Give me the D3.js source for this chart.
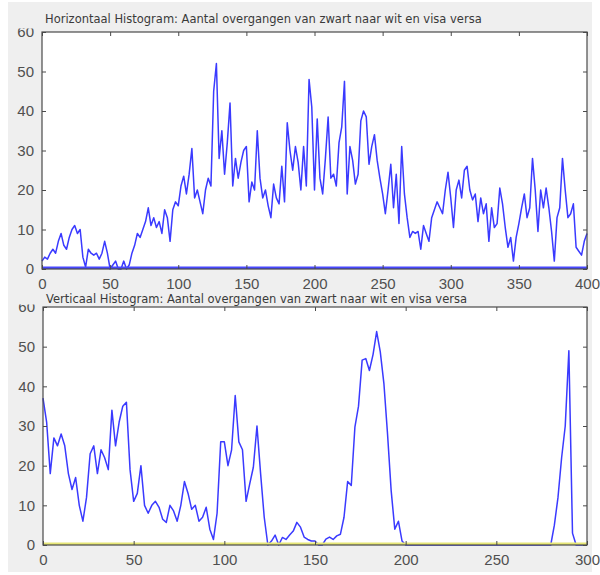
<!DOCTYPE html>
<html>
<head>
<meta charset="utf-8">
<script src="https://cdn.jsdelivr.net/npm/d3@7"></script>
<style>
  body { margin: 0; background: #fff; }
  svg { display: block; }
  text { font-family: Arial, "Liberation Sans", sans-serif; }
</style>
</head>
<body>
<svg id="chart" width="600" height="575"></svg>
<script>
// horizontal histogram, one value per 2 columns (0..400)
const horizValues = [
  2, 3, 2.5, 4, 5, 4, 7, 9, 6, 5, 8, 10, 11, 9, 10, 3, 0.5, 5, 4, 3.5,
  4, 2.5, 4, 7, 4, 0, 1, 2, 0, 0, 2, 0, 1, 4, 6, 9, 8, 10, 12, 15.5,
  11, 13, 10.5, 12, 9, 15, 13, 7, 15, 17, 16, 21, 23.5, 19, 24, 30.5, 18, 20, 17, 14,
  20, 23, 21, 45, 52, 28, 35, 24, 32, 42, 21, 28, 23, 27, 30, 31, 17, 22, 20, 35,
  23, 18, 20, 16, 13, 21.5, 18, 16.5, 26, 17, 37, 30, 25, 31, 27, 20, 31, 21, 48, 41,
  20, 38, 23, 19, 28, 38.5, 23, 24, 21, 32, 36, 47.5, 19, 31, 27.5, 21.5, 24, 37.5, 40, 38.5,
  26.5, 31, 34, 27.5, 23, 19, 14, 20, 26.5, 15.5, 24, 11.5, 31, 19, 13, 8, 9.5, 9, 9.5, 5,
  11, 9, 7, 13, 15, 17, 15.5, 14, 20, 24.5, 18, 10.5, 20, 22.5, 18, 25, 26, 20, 17.5, 19,
  12, 18, 14, 16.5, 7, 15.5, 10.5, 11.5, 20.5, 16.5, 10.5, 5.5, 8, 2, 8, 11.5, 15.5, 19, 13, 15.5,
  28, 20, 9.5, 20, 15.5, 20.5, 15.5, 9.5, 2, 13, 15.5, 28, 20, 13, 14, 16.5, 5.5, 4.5, 3.5, 7,
  9
];
const horizStep = 2;

// vertical histogram, one value per 2 rows (0..300)
const vertValues = [
  37, 31, 18, 27, 25, 28, 25, 18, 14, 17, 10, 6, 12, 23, 25, 18, 24, 22, 19, 34,
  25, 31, 35, 36, 19, 11, 13, 20, 10, 8, 10, 11, 9.5, 6.5, 5.7, 10, 8.6, 6, 10, 16,
  13, 9, 10, 6, 7, 9.5, 4, 1.4, 8, 26, 26, 20, 24, 37.7, 26, 24, 11, 15.4, 19.6, 30,
  18, 7, 0, 1, 2.5, 0, 1.9, 1.4, 2.5, 3.5, 5.7, 4.5, 2, 1.4, 1, 1, 0, 0, 1.5, 2,
  1.4, 2.3, 2.7, 7, 16, 15, 29.7, 35, 46.6, 47, 44, 48, 53.8, 48.7, 40.7, 28, 13.7, 4, 6, 1,
  0, 0, 0, 0, 0, 0, 0, 0, 0, 0, 0, 0, 0, 0, 0, 0, 0, 0, 0, 0,
  0, 0, 0, 0, 0, 0, 0, 0, 0, 0, 0, 0, 0, 0, 0, 0, 0, 0, 0, 0,
  0, 5, 12, 22, 30, 49, 3, 0, 0, 0, 0
];
const vertStep = 2;

const yTicks = [0, 10, 20, 30, 40, 50, 60];
const horizXTicks = [0, 50, 100, 150, 200, 250, 300, 350, 400];
const vertXTicks = [0, 50, 100, 150, 200, 250, 300];

const horizTitle = "Horizontaal Histogram: Aantal overgangen van zwart naar wit en visa versa";
const vertTitle = "Verticaal Histogram: Aantal overgangen van zwart naar wit en visa versa";

const svg = d3.select("#chart");
const axisColor = "#4a4a4a";
const labelColor = "#505050";

svg.append("rect")
  .attr("x", 8).attr("y", 2)
  .attr("width", 584).attr("height", 570)
  .attr("fill", "#efefef");

const panels = [
  { title: horizTitle, values: horizValues, step: horizStep, xMax: 400, xTicks: horizXTicks,
    left: 42, right: 587, top: 32, bottom: 269, titleY: 23, maskTop: 8, maskBottom: 28.5, zeroColor: "#4848ff" },
  { title: vertTitle, values: vertValues, step: vertStep, xMax: 300, xTicks: vertXTicks,
    left: 43, right: 587, top: 307, bottom: 545, titleY: 303, maskTop: 291, maskBottom: 304.5, zeroColor: "#e6e676" }
];

panels.forEach(p => {
  const x = d3.scaleLinear().domain([0, p.xMax]).range([p.left, p.right]);
  const y = d3.scaleLinear().domain([0, 60]).range([p.bottom, p.top]);
  const g = svg.append("g");

  g.append("rect")
    .attr("x", p.left).attr("y", p.top)
    .attr("width", p.right - p.left).attr("height", p.bottom - p.top)
    .attr("fill", "#fff");

  const line = d3.line()
    .x((d, i) => x(i * p.step))
    .y(d => y(d));

  g.append("path")
    .datum(p.values)
    .attr("d", line)
    .attr("fill", "none")
    .attr("stroke", "#3a3aff")
    .attr("stroke-width", 1.5)
    .attr("stroke-linejoin", "round");

  // zero line (second series), drawn on top
  g.append("line")
    .attr("x1", x(0)).attr("x2", x(p.xMax))
    .attr("y1", y(0) - 1.2).attr("y2", y(0) - 1.2)
    .attr("stroke", p.zeroColor).attr("stroke-width", 2.4);

  // axes: ticks inward on all four sides
  const bottomAxis = g.append("g")
    .attr("transform", `translate(0,${p.bottom})`)
    .call(d3.axisBottom(x).tickValues(p.xTicks).tickSizeInner(-4).tickSizeOuter(0).tickPadding(9));
  const topAxis = g.append("g")
    .attr("transform", `translate(0,${p.top})`)
    .call(d3.axisTop(x).tickValues(p.xTicks).tickSizeInner(-4).tickSizeOuter(0).tickFormat(""));
  const leftAxis = g.append("g")
    .attr("transform", `translate(${p.left},0)`)
    .call(d3.axisLeft(y).tickValues(yTicks).tickSizeInner(-4).tickSizeOuter(0).tickPadding(8));
  const rightAxis = g.append("g")
    .attr("transform", `translate(${p.right},0)`)
    .call(d3.axisRight(y).tickValues(yTicks).tickSizeInner(-4).tickSizeOuter(0).tickFormat(""));

  [bottomAxis, topAxis, leftAxis, rightAxis].forEach(a => {
    a.select(".domain").remove();
    a.selectAll(".tick line").attr("stroke", axisColor);
    a.selectAll("text")
      .attr("fill", labelColor)
      .style("font-size", "15px");
  });

  g.append("rect")
    .attr("x", p.left).attr("y", p.top)
    .attr("width", p.right - p.left).attr("height", p.bottom - p.top)
    .attr("fill", "none")
    .attr("stroke", axisColor)
    .attr("stroke-width", 1.2);

  // title box clips the top of the "60" label
  g.append("rect")
    .attr("x", 10).attr("y", p.maskTop)
    .attr("width", 578).attr("height", p.maskBottom - p.maskTop)
    .attr("fill", "#efefef");

  g.append("text")
    .attr("x", p.left + 3)
    .attr("y", p.titleY)
    .attr("fill", "#3a3a3a")
    .style("font-family", "'DejaVu Sans', sans-serif")
    .style("font-size", "11.5px")
    .text(p.title);
});
</script>
</body>
</html>
